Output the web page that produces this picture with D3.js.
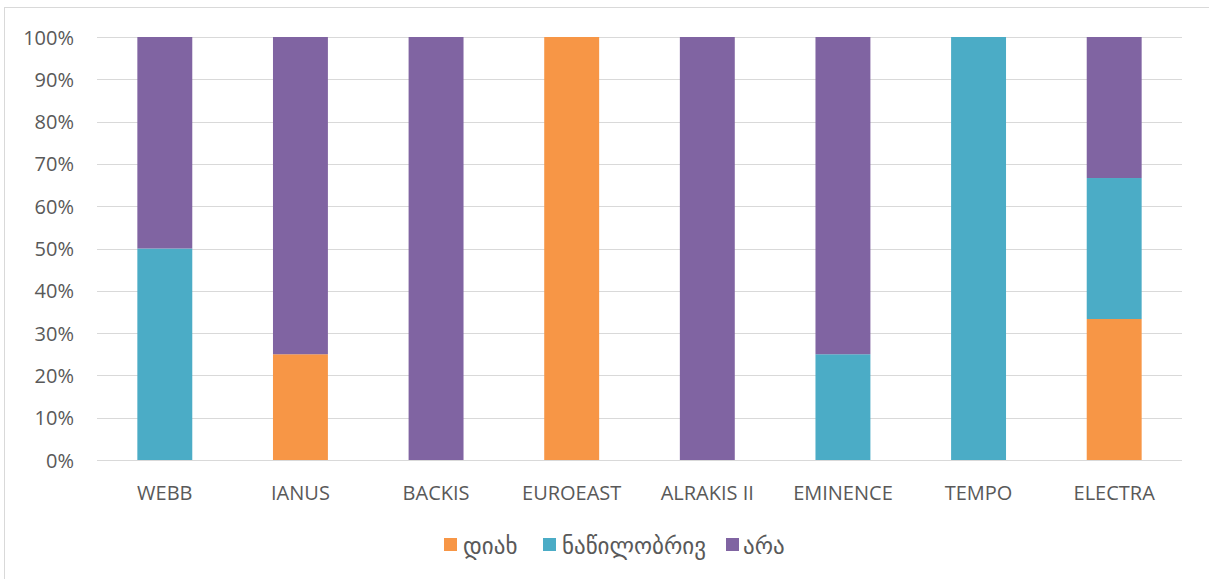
<!DOCTYPE html>
<html><head><meta charset="utf-8">
<script src="https://cdn.jsdelivr.net/npm/d3@7/dist/d3.min.js"></script>
<style>body{margin:0;background:#fff}svg{display:block}text{font-family:"Open Sans","DejaVu Sans",sans-serif;fill:#595959}</style>
</head><body><svg id="c" width="1209" height="579"></svg>
<script>
const categories = ["WEBB","IANUS","BACKIS","EUROEAST","ALRAKIS II","EMINENCE","TEMPO","ELECTRA"];
const seriesNames = ["დიახ","ნაწილობრივ","არა"];
const seriesColors = ["#F79646","#4BACC6","#8064A2"];
const yesValues = [0, 25, 0, 100, 0, 0, 0, 33.33];
const partialValues = [50, 0, 0, 0, 0, 25, 100, 33.33];
const noValues = [50, 75, 100, 0, 100, 75, 0, 33.34];
const yTicks = [0,10,20,30,40,50,60,70,80,90,100];

const svg = d3.select("#c");
svg.append("rect").attr("x",4.5).attr("y",7.5).attr("width",1220).attr("height",590)
  .attr("fill","#fff").attr("stroke","#d9d9d9").attr("stroke-width",1);

const L=97, R=1182, T=37, B=460;
const x = d3.scaleBand().domain(categories).range([L,R]).paddingInner(0.595).paddingOuter(0.2975);
const y = d3.scaleLinear().domain([0,100]).range([B,T]);

svg.append("g").selectAll("line").data(yTicks).join("line")
  .attr("x1",L).attr("x2",R).attr("y1",d=>Math.round(y(d))+0.5).attr("y2",d=>Math.round(y(d))+0.5)
  .attr("stroke","#d9d9d9").attr("stroke-width",1);

const rows = categories.map((c,i)=>({cat:c, s0:yesValues[i], s1:partialValues[i], s2:noValues[i]}));
const stack = d3.stack().keys(["s0","s1","s2"])(rows);
svg.append("g").selectAll("g").data(stack).join("g").attr("fill",(d,i)=>seriesColors[i])
  .selectAll("rect").data(d=>d).join("rect")
  .attr("x",d=>x(d.data.cat)).attr("width",x.bandwidth())
  .attr("y",d=>y(d[1])).attr("height",d=>y(d[0])-y(d[1]));

const yAxis = d3.axisLeft(y).tickValues(yTicks).tickFormat(d=>d+"%").tickSize(0).tickPadding(0);
const ga = svg.append("g").attr("transform",`translate(74,0)`).call(yAxis);
ga.attr("font-size",null).attr("font-family",null);
ga.select(".domain").remove();
ga.selectAll("text").style("font-size","20px").style("fill","#595959").attr("dy","0.35em");

const xAxis = d3.axisBottom(x).tickSize(0).tickPadding(0);
const gx = svg.append("g").attr("transform",`translate(0,${B})`).call(xAxis);
gx.attr("font-size",null).attr("font-family",null);
gx.select(".domain").attr("stroke","#d9d9d9").attr("d",`M${L},0.5H${R}`);
gx.selectAll("text").style("font-size","20px").style("fill","#595959").attr("y",33).attr("dy","0.35em");

const legX = [444, 543, 726];
const legTX = [463, 562, 743];
const lg = svg.append("g");
seriesNames.forEach((n,i)=>{
  lg.append("rect").attr("x",legX[i]).attr("y",538).attr("width",13).attr("height",13).attr("fill",seriesColors[i]);
  lg.append("text").attr("x",legTX[i]).attr("y",546).attr("dy","0.35em").style("font-size","23px").text(n);
});
</script></body></html>
